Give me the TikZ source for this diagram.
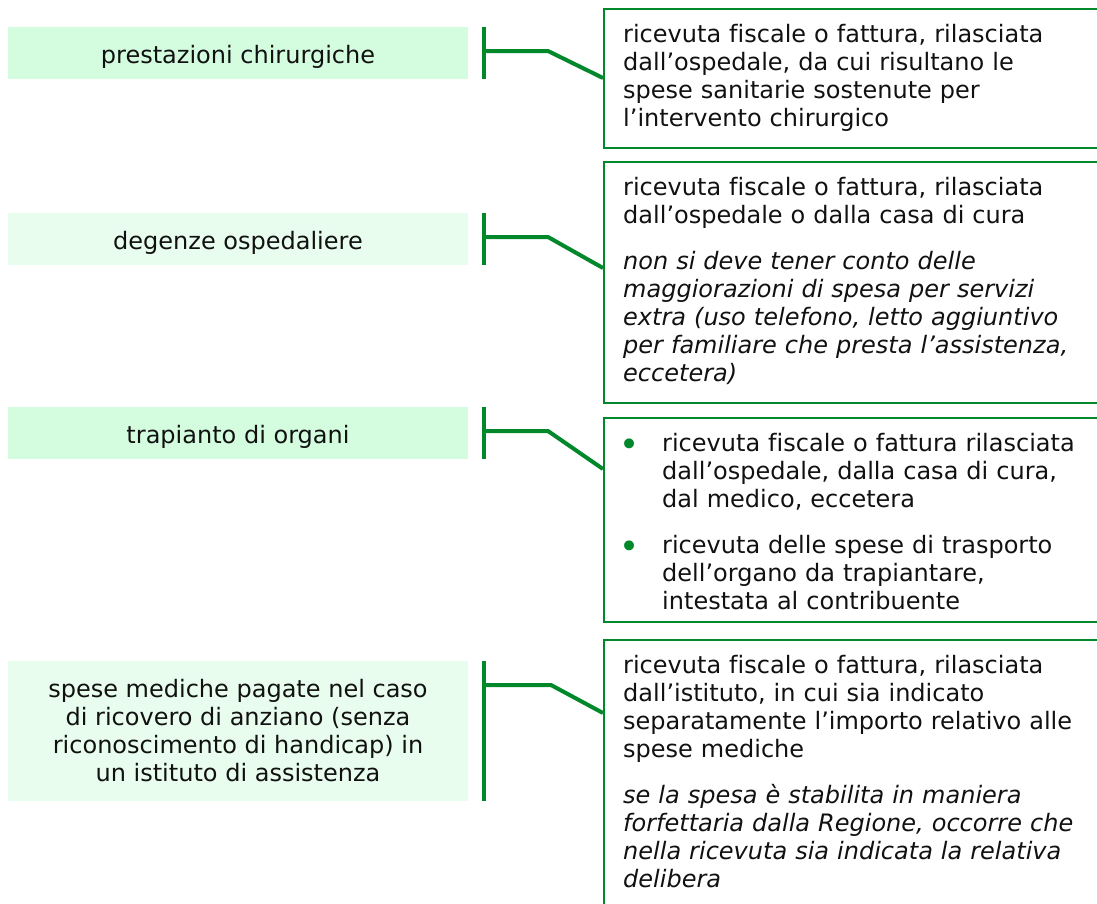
\documentclass[tikz,border=0pt]{standalone}
\usepackage{fontspec}
\setmainfont[Ligatures=NoCommon]{DejaVu Sans}
\usetikzlibrary{positioning}
\definecolor{cLine}{HTML}{00882B}
\definecolor{cBoxA}{HTML}{D4FDE0}
\definecolor{cBoxB}{HTML}{E9FDEF}
\definecolor{cText}{HTML}{111111}
\newcommand{\puntino}{\makebox[39pt][l]{\makebox[12pt][c]{\raisebox{-5pt}{\textcolor{cLine}{\fontsize{34}{28}\selectfont •}}}}}

\begin{document}
\begin{tikzpicture}[x=1pt,y=-1pt,
   voce/.style={fill=#1,minimum width=460pt,inner sep=0pt,align=center,
     text=cText,font=\fontsize{24}{28}\selectfont},
   riga/.style={minimum height=52pt,text height=20pt,text depth=0pt},
   docbox/.style={draw=cLine,line width=2pt,minimum width=520pt,inner sep=0pt,anchor=north west},
   doctext/.style={inner sep=0pt,text width=480pt,align=left,text=cText,
     font=\fontsize{24}{28}\selectfont},
   bar/.style={cLine,line width=4pt},
   link/.style={cLine,line width=4pt,line join=miter}]
  \useasboundingbox (0,0) rectangle (1097,903);
  \clip (0,0) rectangle (1097,903);
  % left column: kinds of expense
  \node[voce=cBoxA,riga] (l1) at (238,53) {prestazioni chirurgiche};
  \node[voce=cBoxB,riga] (l2) at (238,239) {degenze ospedaliere};
  \node[voce=cBoxA,riga] (l3) at (238,433) {trapianto di organi};
  \node[voce=cBoxB,minimum height=140pt] (l4) at (238,731)
       {spese mediche pagate nel caso\\di ricovero di anziano (senza\\riconoscimento di handicap) in\\un istituto di assistenza};
  % right column: documents
  \node[docbox,minimum height=139pt] (r1) at (603,8) {};
  \node[docbox,minimum height=241pt] (r2) at (603,161) {};
  \node[docbox,minimum height=204pt] (r3) at (603,417) {};
  \node[docbox,minimum height=290pt] (r4) at (603,639) {};
  \node[doctext,below right=14.4pt and 20pt of r1.north west] (t1)
       {\strut ricevuta fiscale o fattura, rilasciata\\dall’ospedale, da cui risultano le\\spese sanitarie sostenute per\\l’intervento chirurgico};
  \node[doctext,below right=14.4pt and 20pt of r2.north west] (t2)
       {\strut ricevuta fiscale o fattura, rilasciata\\dall’ospedale o dalla casa di cura\\[18pt]
        \itshape non si deve tener conto delle\\maggiorazioni di spesa per servizi\\extra (uso telefono, letto aggiuntivo\\per familiare che presta l’assistenza,\\eccetera)};
  \node[doctext,below right=14.4pt and 20pt of r3.north west] (t3)
       {\strut\puntino ricevuta fiscale o fattura rilasciata\\
        \hspace*{39pt}dall’ospedale, dalla casa di cura,\\\hspace*{39pt}dal medico, eccetera\\[18pt]
        \puntino ricevuta delle spese di trasporto\\
        \hspace*{39pt}dell’organo da trapiantare,\\\hspace*{39pt}intestata al contribuente};
  \node[doctext,below right=14.4pt and 20pt of r4.north west] (t4)
       {\strut ricevuta fiscale o fattura, rilasciata\\dall’istituto, in cui sia indicato\\separatamente l’importo relativo alle\\spese mediche\\[18pt]
        \itshape se la spesa è stabilita in maniera\\forfettaria dalla Regione, occorre che\\nella ricevuta sia indicata la relativa\\delibera};
  % brackets
  \foreach \n/\yh/\xe/\yd in {1/51/548/78,2/237/548/268,3/431/548/469,4/685/551/713}{
    \coordinate (k\n) at (484,\yh);
    \coordinate (e\n) at (\xe,\yh);
    \coordinate (h\n) at (603,\yd);
    \draw[bar] ([xshift=16pt]l\n.north east) -- ([xshift=16pt]l\n.south east);
    \draw[link] (k\n) -- (e\n) -- (h\n);
  }
\end{tikzpicture}
\end{document}
